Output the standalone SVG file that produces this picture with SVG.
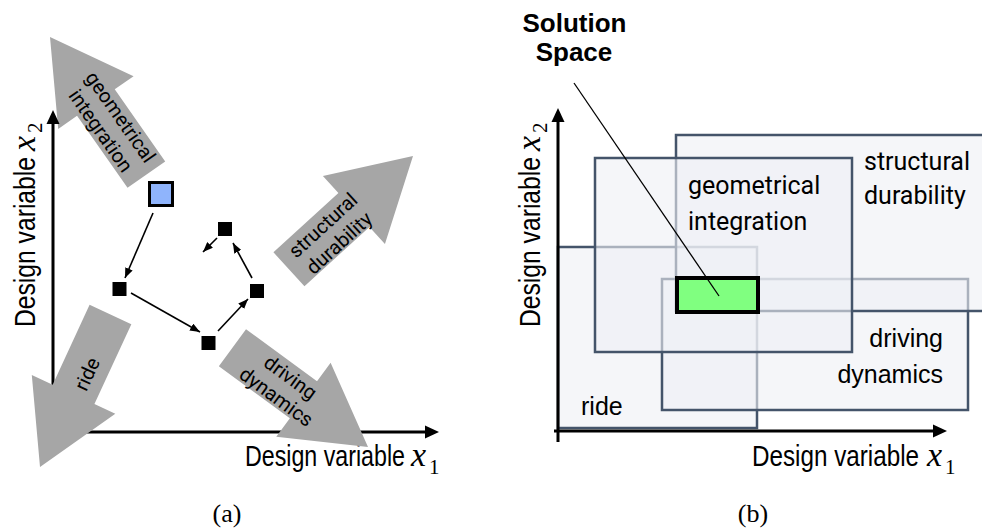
<svg xmlns="http://www.w3.org/2000/svg" width="982" height="532" viewBox="0 0 982 532">
  <style>
    .bigarrow { fill: #a6a6a6; }
    .atext { font-family: Roboto, "Liberation Sans", sans-serif; font-size: 20px; fill: #000; text-anchor: middle; }
    .axis { stroke: #000; stroke-width: 3; fill: none; }
    .axhead { fill: #000; }
    .label { font-family: "Liberation Sans", Arial, sans-serif; font-size: 29px; fill: #000; }
    .math { font-family: "Liberation Serif", "Times New Roman", serif; font-style: italic; font-size: 34px; }
    .sub { font-family: "Liberation Serif", "Times New Roman", serif; font-size: 21px; font-style: normal; }
    .step { fill: #000; }
    .link { stroke: #000; stroke-width: 1.6; fill: none; marker-end: url(#tip); }
    .region { fill: #eef0f5; fill-opacity: 0.6; stroke: #44546a; stroke-width: 2.5; }
    .rlabel { font-family: Roboto, "Liberation Sans", sans-serif; font-size: 25px; fill: #000; }
    .dlabel { font-family: "Liberation Sans", Arial, sans-serif; font-size: 25px; fill: #000; }
    .caption { font-family: "Liberation Serif", "Times New Roman", serif; font-size: 26px; fill: #000; text-anchor: middle; }
  </style>
  <defs>
    <!-- wide grey arrow, tip at origin, pointing along +x -->
    <polygon id="fatArrow" points="0,0 -80,-46 -80,-23 -168,-23 -168,23 -80,23 -80,46"/>
    <marker id="tip" viewBox="0 0 10 8" refX="10" refY="4" markerWidth="10" markerHeight="8" markerUnits="userSpaceOnUse" orient="auto">
      <path d="M0,0 L10,4 L0,8 z" fill="#000"/>
    </marker>
  </defs>

  <!-- ===== (a) search in design space ===== -->
  <g id="dir-geometrical">
    <use href="#fatArrow" class="bigarrow" transform="translate(50,37) rotate(-125)"/>
    <text class="atext" transform="translate(110.8,123.8) rotate(55)"><tspan x="0" y="-5">geometrical</tspan><tspan x="0" y="19">integration</tspan></text>
  </g>
  <g id="dir-structural">
    <use href="#fatArrow" class="bigarrow" transform="translate(413,156) rotate(-42.4)"/>
    <text class="atext" transform="translate(331,234) rotate(-42.4)"><tspan x="0" y="-5">structural</tspan><tspan x="0" y="19">durability</tspan></text>
  </g>

  <g id="axes-a">
    <line class="axis" x1="53" y1="432" x2="53" y2="123"/>
    <polygon class="axhead" points="53,110 46.5,124 59.5,124"/>
    <line class="axis" x1="53" y1="432" x2="426" y2="432"/>
    <polygon class="axhead" points="439,432 425,425.5 425,438.5"/>
    <text x="245" y="466"><tspan class="label" textLength="160" lengthAdjust="spacingAndGlyphs">Design variable</tspan><tspan class="math" dx="6">x</tspan><tspan class="sub" dx="3" dy="8">1</tspan></text>
    <text transform="translate(35,327) rotate(-90)" x="0" y="0"><tspan class="label" textLength="170" lengthAdjust="spacingAndGlyphs">Design variable</tspan><tspan class="math" dx="6">x</tspan><tspan class="sub" dx="3" dy="7">2</tspan></text>
  </g>

  <g id="dir-ride">
    <use href="#fatArrow" class="bigarrow" transform="translate(40,467) rotate(114.8)"/>
    <text class="atext" transform="translate(87,374) rotate(-65.2)" x="0" y="7">ride</text>
  </g>
  <g id="dir-driving">
    <use href="#fatArrow" class="bigarrow" transform="translate(368,447) rotate(36.2)"/>
    <text class="atext" transform="translate(283.5,387) rotate(36.2)"><tspan x="0" y="-5">driving</tspan><tspan x="0" y="19">dynamics</tspan></text>
  </g>

  <g id="start"><rect x="149.5" y="182.5" width="23" height="23" fill="#8fb4fc" stroke="#000" stroke-width="3"/></g>
  <g id="p1"><rect class="step" x="112.5" y="282" width="14" height="14"/></g>
  <g id="p2"><rect class="step" x="201.5" y="336" width="14" height="14"/></g>
  <g id="p3"><rect class="step" x="250" y="284" width="14" height="14"/></g>
  <g id="p4"><rect class="step" x="218" y="222" width="14" height="14"/></g>

  <g id="connectors">
    <path class="link" d="M153,213 L125,278"/>
    <path class="link" d="M131,293 L200,332"/>
    <path class="link" d="M218,331 L248,299"/>
    <path class="link" d="M252,278 L233,243"/>
    <path class="link" d="M217,238 L203,252"/>
  </g>

  <!-- ===== (b) solution space as intersection of boxes ===== -->
  <g id="box-ride">
    <rect class="region" x="558" y="247" width="199" height="181"/>
    <text class="dlabel" x="581" y="415">ride</text>
  </g>
  <g id="box-driving">
    <rect class="region" x="662" y="279" width="306" height="131"/>
    <text class="dlabel" text-anchor="end"><tspan x="943" y="347">driving</tspan><tspan x="943" y="383">dynamics</tspan></text>
  </g>
  <g id="box-structural">
    <rect class="region" x="676" y="135" width="320" height="176"/>
    <text class="rlabel"><tspan x="864" y="170">structural</tspan><tspan x="864" y="204">durability</tspan></text>
  </g>
  <g id="box-geometrical">
    <rect class="region" x="595" y="158" width="257" height="194"/>
    <text class="rlabel"><tspan x="688" y="194">geometrical</tspan><tspan x="688" y="230">integration</tspan></text>
  </g>

  <g id="axes-b">
    <line class="axis" x1="558" y1="442" x2="558" y2="121"/>
    <polygon class="axhead" points="558,108 551.5,122 564.5,122"/>
    <line class="axis" x1="554" y1="431" x2="934" y2="431"/>
    <polygon class="axhead" points="947,431 933,424.5 933,437.5"/>
    <text x="752" y="466"><tspan class="label" textLength="167" lengthAdjust="spacingAndGlyphs">Design variable</tspan><tspan class="math" dx="8">x</tspan><tspan class="sub" dx="3" dy="8">1</tspan></text>
    <text transform="translate(540,327) rotate(-90)" x="0" y="0"><tspan class="label" textLength="170" lengthAdjust="spacingAndGlyphs">Design variable</tspan><tspan class="math" dx="6">x</tspan><tspan class="sub" dx="3" dy="7">2</tspan></text>
  </g>

  <g id="solution">
    <rect x="677" y="278" width="81" height="34" fill="#80ff80" stroke="#000" stroke-width="4"/>
  </g>
  <g id="solution-label">
    <text font-family="'Liberation Sans', Arial, sans-serif" font-weight="bold" font-size="26" text-anchor="middle"><tspan x="574.5" y="32">Solution</tspan><tspan x="574" y="61">Space</tspan></text>
  </g>
  <g id="leader">
    <line x1="574" y1="83" x2="719" y2="296" stroke="#000" stroke-width="1.3"/>
  </g>

  <text class="caption" x="227" y="522">(a)</text>
  <text class="caption" x="753" y="522">(b)</text>
</svg>
